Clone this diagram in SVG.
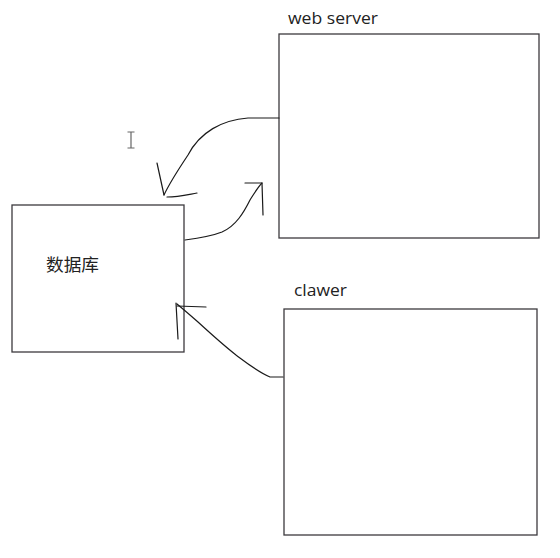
<svg xmlns="http://www.w3.org/2000/svg" width="560" height="558" viewBox="0 0 560 558">
<style>
.box{fill:#fff;stroke:#3c3a3e;stroke-width:1.3}
.lbl{font-family:"Open Sans","Noto Sans","Noto Sans CJK SC",sans-serif;font-size:17px;fill:#222}
.cjk{font-family:"Noto Sans CJK SC","Noto Sans",sans-serif;font-size:17.5px;fill:#222}
.ink{fill:none;stroke:#1a1a1a;stroke-width:1.2;stroke-linecap:round;stroke-linejoin:round}
</style>
<rect width="560" height="558" fill="#fff"/>
<g id="database">
<rect class="box" x="12" y="205" width="172" height="147"/>
<text class="cjk" x="46" y="271" textLength="53" lengthAdjust="spacingAndGlyphs">数据库</text>
</g>
<g id="webserver">
<rect class="box" x="279" y="34" width="260" height="204"/>
<text class="lbl" x="288" y="24" textLength="90" lengthAdjust="spacingAndGlyphs">web server</text>
</g>
<g id="clawer">
<rect class="box" x="284" y="309" width="253" height="226"/>
<text class="lbl" x="294" y="296" textLength="53" lengthAdjust="spacingAndGlyphs">clawer</text>
</g>
<g id="connectors">
<path class="ink" d="M279,118 L248,118 C222,120 200,132 188,155 C178,170 170,182 164,195"/>
<path class="ink" d="M157,163 L164,195"/>
<path class="ink" d="M167,197 C178,197 186,195 197,193"/>
<path class="ink" d="M185,240 C200,238 212,236 222,232 C236,226 244,212 250,200 C255,192 258,187 262,183"/>
<path class="ink" d="M245,183 L262,183 L263,215"/>
<path class="ink" d="M283,377 L270,377 C258,372 248,364 236,355 C222,344 210,333 198,322 C190,315 183,309 177,304"/>
<path class="ink" d="M177,306 L206,307"/>
<path class="ink" d="M176,303 L178,339"/>
</g>
<g id="cursor" fill="none" stroke="#666" stroke-width="1.2">
<path d="M131,132 L131,148 M127.5,132 L134.5,132 M127.5,148 L134.5,148"/>
</g>
</svg>
